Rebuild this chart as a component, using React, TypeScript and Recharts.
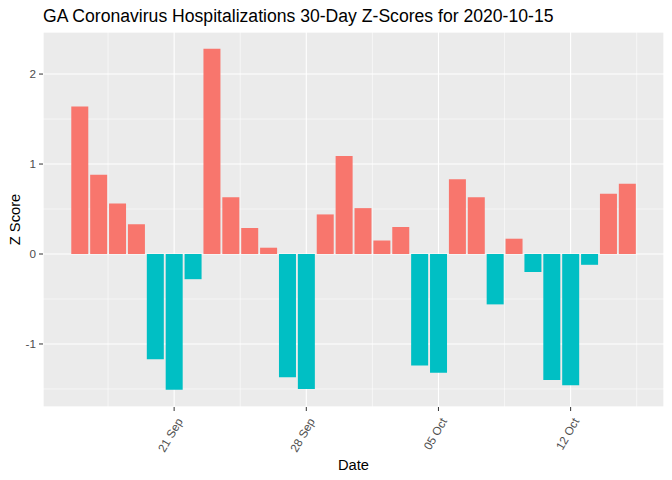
import { BarChart, Bar, XAxis, YAxis, CartesianGrid, Cell } from 'recharts';

// day index 0 = 16 Sep 2020 ... 29 = 15 Oct 2020
const days = Array.from({ length: 30 }, (_, i) => i);
const zScores = [
  1.64, 0.88, 0.56, 0.33, -1.17, -1.51, -0.28, 2.28, 0.63, 0.29,
  0.07, -1.37, -1.5, 0.44, 1.09, 0.51, 0.15, 0.3, -1.24, -1.32,
  0.83, 0.63, -0.56, 0.17, -0.2, -1.4, -1.46, -0.12, 0.67, 0.78,
];
const majorDays = [5, 12, 19, 26];
const majorLabels = ['21 Sep', '28 Sep', '05 Oct', '12 Oct'];
const minorDays = [1.5, 8.5, 15.5, 22.5, 29.5];
const majorZ = [-1, 0, 1, 2];
const minorZ = [-1.5, -0.5, 0.5, 1.5];

const data = days.map((d, i) => ({ day: d, z: zScores[i] }));

const FONT = '"Liberation Sans", Arial, sans-serif';
const POS = '#F8766D';
const NEG = '#00BFC4';

// ggplot-like expansion: bar half width 0.45 plus 5% of the range
const xDomain = [-1.945, 30.945];
const yDomain = [-1.7005, 2.4675];

const DateTick = ({ x, y, payload }: any) => {
  const idx = majorDays.indexOf(payload.value);
  const tx = x + 9;
  const ty = y + 8;
  return (
    <text x={tx} y={ty} transform={`rotate(-60 ${tx} ${ty})`} textAnchor="end"
      fill="#4D4D4D" fontSize={11.7} fontFamily={FONT}>
      {idx >= 0 ? majorLabels[idx] : ''}
    </text>
  );
};

export default function App() {
  return (
    <div style={{ position: 'absolute', left: 0, top: 0, width: 672, height: 480, background: '#fff' }}>
      <BarChart width={672} height={480} data={data}
        margin={{ top: 32, right: 8, bottom: 0, left: 0 }}>
        <CartesianGrid xAxisId="minor" yAxisId="minor" fill="#EBEBEB" stroke="#fff" strokeWidth={0.55} />
        <CartesianGrid stroke="#fff" strokeWidth={1.1} />
        <XAxis xAxisId="minor" type="number" dataKey="day" domain={xDomain} ticks={minorDays}
          allowDataOverflow hide />
        <YAxis yAxisId="minor" type="number" domain={yDomain} ticks={minorZ} allowDataOverflow hide />
        <XAxis type="number" dataKey="day" domain={xDomain} ticks={majorDays} allowDataOverflow
          height={73} axisLine={false} tickSize={4} tickLine={{ stroke: '#333333' }}
          tick={<DateTick />} interval={0} />
        <YAxis type="number" domain={yDomain} ticks={majorZ} allowDataOverflow width={43}
          axisLine={false} tickSize={4} tickMargin={3} tickLine={{ stroke: '#333333' }}
          tick={{ fill: '#4D4D4D', fontSize: 11.7, fontFamily: FONT }} interval={0} />
        <Bar dataKey="z" barSize={17} isAnimationActive={false}>
          {data.map((d, i) => (
            <Cell key={`bar-${i}`} fill={d.z >= 0 ? POS : NEG} />
          ))}
        </Bar>
      </BarChart>
      <svg width={672} height={480} style={{ position: 'absolute', left: 0, top: 0, pointerEvents: 'none' }}>
        <text x={43} y={22} fontSize={17.6} fontFamily={FONT} fill="#000">
          GA Coronavirus Hospitalizations 30-Day Z-Scores for 2020-10-15
        </text>
        <text x={353.5} y={470} fontSize={14.7} fontFamily={FONT} fill="#000" textAnchor="middle">
          Date
        </text>
        <text transform="translate(20 219.5) rotate(-90)" fontSize={14.7} fontFamily={FONT} fill="#000"
          textAnchor="middle">
          Z Score
        </text>
      </svg>
    </div>
  );
}
